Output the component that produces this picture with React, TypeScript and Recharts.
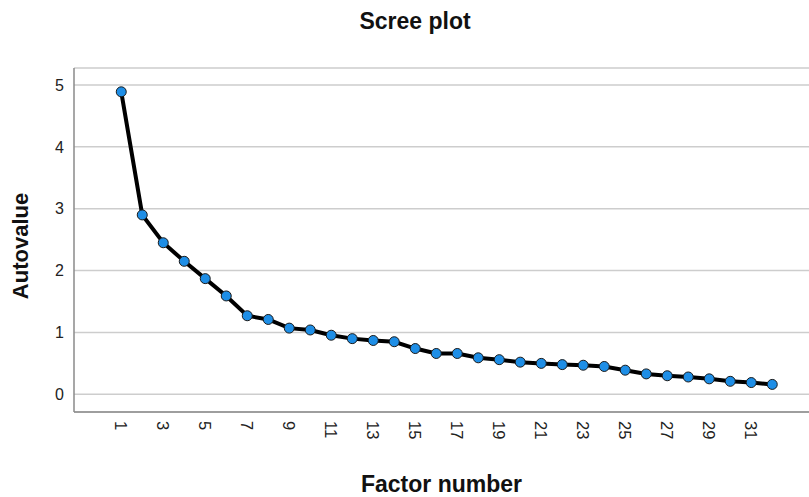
import React from 'react';
import { LineChart, Line, XAxis, YAxis, CartesianGrid } from 'recharts';

// factor numbers and eigenvalues
const factors = Array.from({ length: 32 }, (_, i) => i + 1);
const eigenvalues = [
  4.89, 2.9, 2.45, 2.15, 1.87, 1.59, 1.27, 1.21, 1.07, 1.04,
  0.955, 0.9, 0.87, 0.85, 0.74, 0.66, 0.66, 0.59, 0.56, 0.52,
  0.5, 0.48, 0.47, 0.45, 0.39, 0.33, 0.3, 0.28, 0.25, 0.21, 0.19, 0.16,
];
const xTicks = [1, 3, 5, 7, 9, 11, 13, 15, 17, 19, 21, 23, 25, 27, 29, 31];
const yTicks = [0, 1, 2, 3, 4, 5];

const data = factors.map((f, i) => ({ factor: f, value: eigenvalues[i] }));

const FONT = '"Liberation Sans", Arial, sans-serif';

const RotatedTick = (props: any) => {
  const { x, y, payload } = props;
  return (
    <text
      x={x}
      y={y}
      transform={`rotate(90, ${x}, ${y})`}
      textAnchor="start"
      dominantBaseline="central"
      fontSize={16.5}
      fontFamily={FONT}
      fill="#222"
    >
      {payload.value}
    </text>
  );
};

export default function App() {
  return (
    <div style={{ position: 'absolute', left: 0, top: 0, width: 809, height: 497, background: '#fff', fontFamily: FONT }}>
      <div style={{ position: 'absolute', top: 8, left: 0, width: 830, textAlign: 'center', fontSize: 23, fontWeight: 'bold', color: '#111' }}>
        Scree plot
      </div>
      <div
        style={{
          position: 'absolute', left: 21, top: 246, transform: 'translate(-50%, -50%) rotate(-90deg)',
          fontSize: 22, fontWeight: 'bold', color: '#111', whiteSpace: 'nowrap',
        }}
      >
        Autovalue
      </div>
      <div style={{ position: 'absolute', top: 471, left: 74, width: 735, textAlign: 'center', fontSize: 23, fontWeight: 'bold', color: '#111' }}>
        Factor number
      </div>
      <LineChart width={809} height={497} data={data} margin={{ top: 68, right: 0, bottom: 0, left: 0 }}>
        <CartesianGrid vertical={false} stroke="#cdcdcd" strokeWidth={1.5} />
        <XAxis
          dataKey="factor"
          type="number"
          domain={[-1.25, 33.75]}
          ticks={xTicks}
          interval={0}
          height={85}
          tickSize={0}
          tickMargin={9}
          tick={<RotatedTick />}
          axisLine={{ stroke: '#8a8a8a', strokeWidth: 1.5 }}
          tickLine={false}
        />
        <YAxis
          type="number"
          domain={[-0.286, 5.275]}
          ticks={yTicks}
          width={74}
          tickSize={0}
          tickMargin={10}
          tick={{ fontSize: 16, fontFamily: FONT, fill: '#222' }}
          axisLine={{ stroke: '#8a8a8a', strokeWidth: 1.5 }}
          tickLine={false}
        />
        <Line
          dataKey="value"
          stroke="#000"
          strokeWidth={4}
          dot={{ r: 5, fill: '#1e8ee6', stroke: '#1a1a1a', strokeWidth: 1 }}
          isAnimationActive={false}
        />
      </LineChart>
    </div>
  );
}
